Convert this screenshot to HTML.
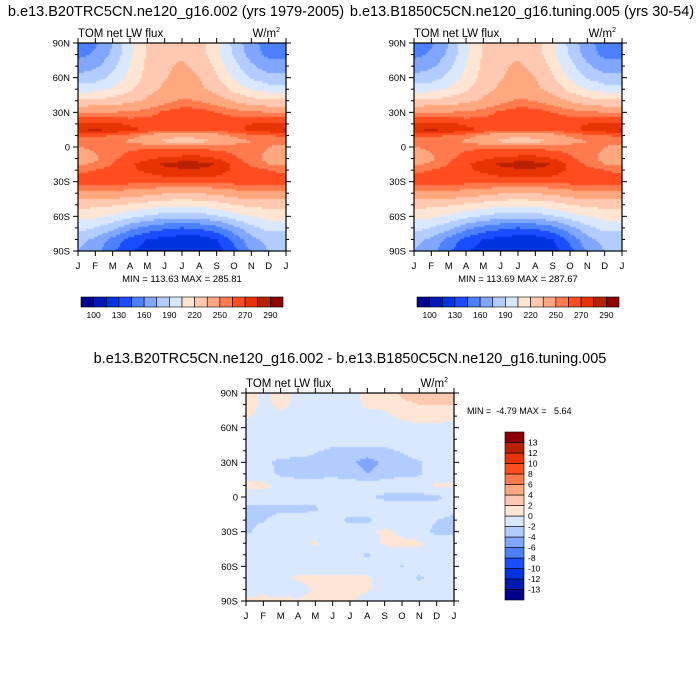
<!DOCTYPE html>
<html><head><meta charset="utf-8"><style>
body{margin:0;background:#fff;width:700px;height:700px;overflow:hidden;position:relative;font-family:"Liberation Sans",sans-serif;}
#root{position:absolute;left:0;top:0;}
text{white-space:pre;}
</style></head><body>
<svg id="root" width="700" height="700" xmlns="http://www.w3.org/2000/svg"></svg>
<script>
// ---------- data ----------
const months = ["J","F","M","A","M","J","J","A","S","O","N","D","J"];
const latLabels = ["90N","60N","30N","0","30S","60S","90S"];
const latTicks = [90,60,30,0,-30,-60,-90];
const lats = [90,80,70,60,50,40,30,20,15,10,5,0,-10,-15,-20,-30,-40,-50,-60,-70,-80,-90];
const fieldA = [
[152,158,175,200,222,230,230,226,208,185,165,152,152],
[156,162,178,202,222,231,233,228,210,188,168,156,156],
[166,172,186,206,224,233,237,232,216,195,178,166,166],
[180,184,194,210,224,234,239,235,222,204,188,180,180],
[198,200,207,218,229,238,243,238,230,215,205,198,198],
[222,223,226,231,238,246,252,250,242,234,226,222,222],
[250,250,250,252,255,262,266,265,260,255,252,250,250],
[272,273,272,268,266,266,268,268,268,268,270,272,274],
[280,282,280,274,268,262,262,262,264,268,272,276,282],
[262,262,260,255,248,240,238,240,245,252,258,260,262],
[252,252,252,248,240,232,228,230,236,244,250,252,252],
[250,252,255,258,258,258,256,256,256,256,254,250,248],
[242,248,258,264,268,272,274,274,270,262,255,246,240],
[248,252,260,268,276,282,285,284,280,268,258,250,248],
[258,260,264,268,272,276,278,278,275,268,264,260,258],
[264,264,264,264,264,265,266,266,265,264,264,264,264],
[248,248,246,244,240,236,234,236,238,244,248,248,248],
[225,224,222,218,214,210,208,210,214,220,224,225,225],
[210,208,202,195,188,182,180,182,188,198,205,210,210],
[195,190,180,165,155,148,145,148,155,170,185,195,195],
[180,172,155,140,130,125,122,122,130,150,170,180,180],
[175,165,148,132,122,118,115,115,122,140,162,175,175]];
const fieldB = fieldA.map(r=>r.slice());
const latsD = [90,80,70,60,50,40,30,20,10,0,-10,-20,-30,-40,-50,-60,-70,-80,-90];
const fieldD = [
[1.5,-0.5,1,-0.5,-0.5,-0.5,-0.5,0.5,0.5,2.5,3,3,3],
[1,-0.5,0.5,-0.5,-1,-1,-1,0.5,0.5,1.5,2,2,2],
[0.3,-0.5,-0.5,-0.5,-1,-1,-1,-1,-0.5,0.5,1,1,0.5],
[-1,-1,-1,-1,-1,-1,-1,-1,-1,-1,-0.5,-0.5,-1],
[-1,-1,-1,-1,-1,-1,-1,-1,-1,-1,-1,-1,-1],
[-1,-1,-1,-1,-1.8,-2.4,-2.5,-2.4,-2.4,-1.8,-1,-1,-1],
[-1,-1.5,-2.5,-2.7,-2.7,-2.7,-3.5,-5,-3.5,-2.7,-2.2,-1,-1],
[-1,-1.2,-2.4,-2.7,-2.6,-2.5,-2.7,-4,-2.7,-2.4,-2.2,-1,-1],
[0.5,0.5,-0.5,-1,-1,-1,-1,-1,-1,-1,-1,0.3,0.3],
[-1.2,-1,-1,-1,-1,-1,-1,-1.8,-2.4,-2.6,-2.5,-2.4,-1.2],
[-2.4,-2.6,-2.6,-2.6,-2.3,-1,-1,-1,-1,-1,-1,-1,-1.5],
[-2.4,-2.2,-1,-1,-1,-1,-2.5,-2.5,-1,-1,-1,-2,-2.4],
[-2.5,-1,-1,-1,-1,-1,-1,-1,0.5,-0.5,-1.5,-2.4,-2.5],
[-1,-1,-1,-1,0.3,-1,-1,-1,0.3,0.5,0.5,-1,-1],
[-1,-1,-1,-1,-1,-1,-1,-2.3,-1,-1,-1,-1,-1],
[-1,-1,-1,-1,-1,-1,-1,-1,-1,-2.2,-1,-1,-1],
[-1,-1,-0.5,0.3,0.5,0.5,0.5,0.3,-1,-1,-2.3,-1,-1],
[-1,-0.5,-1,-1,0.3,0.5,0.5,0.3,-1,-1,-1,-1,-1],
[0.5,0.5,0.5,0.3,0.5,0.5,0.5,-1,-1,-1,-1,-1,-1]];
const levelsA = [100,115,130,145,160,175,190,205,220,235,250,260,270,280,290];
const levelLabelsA = ["100","130","160","190","220","250","270","290"];
const levelsD = [-13,-12,-10,-8,-6,-4,-2,0,2,4,6,8,10,12,13];
const palette = ["#00008c","#0019b0","#0033e0","#1a4dff","#4d80ff","#80a6ff","#b3ccff","#d9e8ff","#ffe5d4","#ffc8b0","#ffa880","#ff7a4d","#ff4d1f","#e63300","#b82200","#8c0000"];

const svg=document.getElementById('root');
const NS="http://www.w3.org/2000/svg";
function mk(tag,attrs,parent){const e=document.createElementNS(NS,tag);for(const k in attrs)e.setAttribute(k,attrs[k]);(parent||svg).appendChild(e);return e;}
function txt(x,y,s,size,anchor,parent){const t=mk('text',{x:x,y:y,'font-size':size,'text-anchor':anchor||'start','font-family':'Liberation Sans, sans-serif',fill:'#000'},parent);t.textContent=s;return t;}

function interp(field,latArr,m,lat){
  let i=0;while(i<latArr.length-2 && lat<latArr[i+1])i++;
  const t=(latArr[i]-lat)/(latArr[i]-latArr[i+1]);
  let j=Math.min(11,Math.floor(m));const u=m-j;
  const a=field[i][j]*(1-u)+field[i][j+1]*u;
  const b=field[i+1][j]*(1-u)+field[i+1][j+1]*u;
  return a*(1-t)+b*t;
}
function colorFor(v,levels){let k=0;while(k<levels.length && v>=levels[k])k++;return palette[k];}

function panel(name,x0,y0,field,latArr,levels,title,titleX,minmax){
  const W=208,H=208;
  const g=mk('g',{});
  
  
  const xs=m=>x0+m/12*W, ys=l=>y0+(90-l)/180*H;
  const fo=mk('foreignObject',{x:x0,y:y0,width:W,height:H},g);
  const cv=document.createElement('canvas');cv.width=W;cv.height=H;
  
  
  fo.appendChild(cv);
  const ctx=cv.getContext('2d');
  const step=2;
  for(let py=0;py<H;py+=step){for(let px=0;px<W;px+=step){
    const m=(px+step/2)/W*12, lat=90-(py+step/2)/H*180;
    ctx.fillStyle=colorFor(interp(field,latArr,m,lat),levels);
    ctx.fillRect(px,py,step,step);}}
  mk('rect',{x:x0,y:y0,width:W,height:H,fill:'none',stroke:'#000','stroke-width':1.2},g);
  for(let l=-90;l<=90;l+=10){const y=ys(l);const maj=l%30===0;const L=maj?5:3;
    mk('line',{x1:x0-L,x2:x0,y1:y,y2:y,stroke:'#000','stroke-width':1},g);
    mk('line',{x1:x0+W,x2:x0+W+L,y1:y,y2:y,stroke:'#000','stroke-width':1},g);}
  latTicks.forEach((l,i)=>{const t=txt(x0-8,ys(l)+3.5,latLabels[i],9.5,'end',g);});
  months.forEach((s,i)=>{const x=xs(i);
    mk('line',{x1:x,x2:x,y1:y0+H,y2:y0+H+5,stroke:'#000','stroke-width':1},g);
    mk('line',{x1:x,x2:x,y1:y0-5,y2:y0,stroke:'#000','stroke-width':1},g);
    const t=txt(x,y0+H+18,s,9.5,'middle',g);});
  const st=txt(x0,y0-6,'TOM net LW flux',11.5,'start',g);
  const un=txt(x0+W-6,y0-6,'W/m',11.5,'end',g);
  const sup=mk('tspan',{dy:-5,'font-size':7},un);sup.textContent='2';
  
  if(title){const tt=txt(titleX,y0-27,title,14.5,'middle',g);}
  if(minmax){const mm=txt(x0+W/2,y0+H+31,minmax,9.5,'middle',g);}
}
function hbar(name,x0,y0,w,h){
  const g=mk('g',{});
  const bw=w/palette.length;
  palette.forEach((c,i)=>{const r=mk('rect',{x:x0+i*bw,y:y0,width:bw,height:h,fill:c,stroke:'#000','stroke-width':0.6},g);
    });
  levelLabelsA.forEach((s,i)=>{const t=txt(x0+(1+2*i)*bw,y0+h+11,s,8.5,'middle',g);});
}
function vbar(name,x0,y0,w,h){
  const g=mk('g',{});
  const bh=h/palette.length;
  palette.forEach((c,i)=>{const r=mk('rect',{x:x0,y:y0+h-(i+1)*bh,width:w,height:bh,fill:c,stroke:'#000','stroke-width':0.6},g);
    });
  levelsD.forEach((v,i)=>{const t=txt(x0+w+4,y0+h-(i+1)*bh+3,String(v),8.5,'start',g);});
}
panel('left-panel',78,43,fieldA,lats,levelsA,'b.e13.B20TRC5CN.ne120_g16.002 (yrs 1979-2005)',176,'MIN = 113.63 MAX = 285.81');
panel('right-panel',414,43,fieldB,lats,levelsA,'b.e13.B1850C5CN.ne120_g16.tuning.005 (yrs 30-54)',522,'MIN = 113.69 MAX = 287.67');
panel('diff-panel',246,393,fieldD,latsD,levelsD,null,0,null);
hbar('left-colorbar',81,297,202,10);
hbar('right-colorbar',417,297,202,10);
vbar('diff-colorbar',505,432,19,168);
const dt=txt(350,363,'b.e13.B20TRC5CN.ne120_g16.002 - b.e13.B1850C5CN.ne120_g16.tuning.005',14.5,'middle');

const dm=txt(467,414,'MIN =  -4.79 MAX =   5.64',9,'start');

</script>
</body></html>
